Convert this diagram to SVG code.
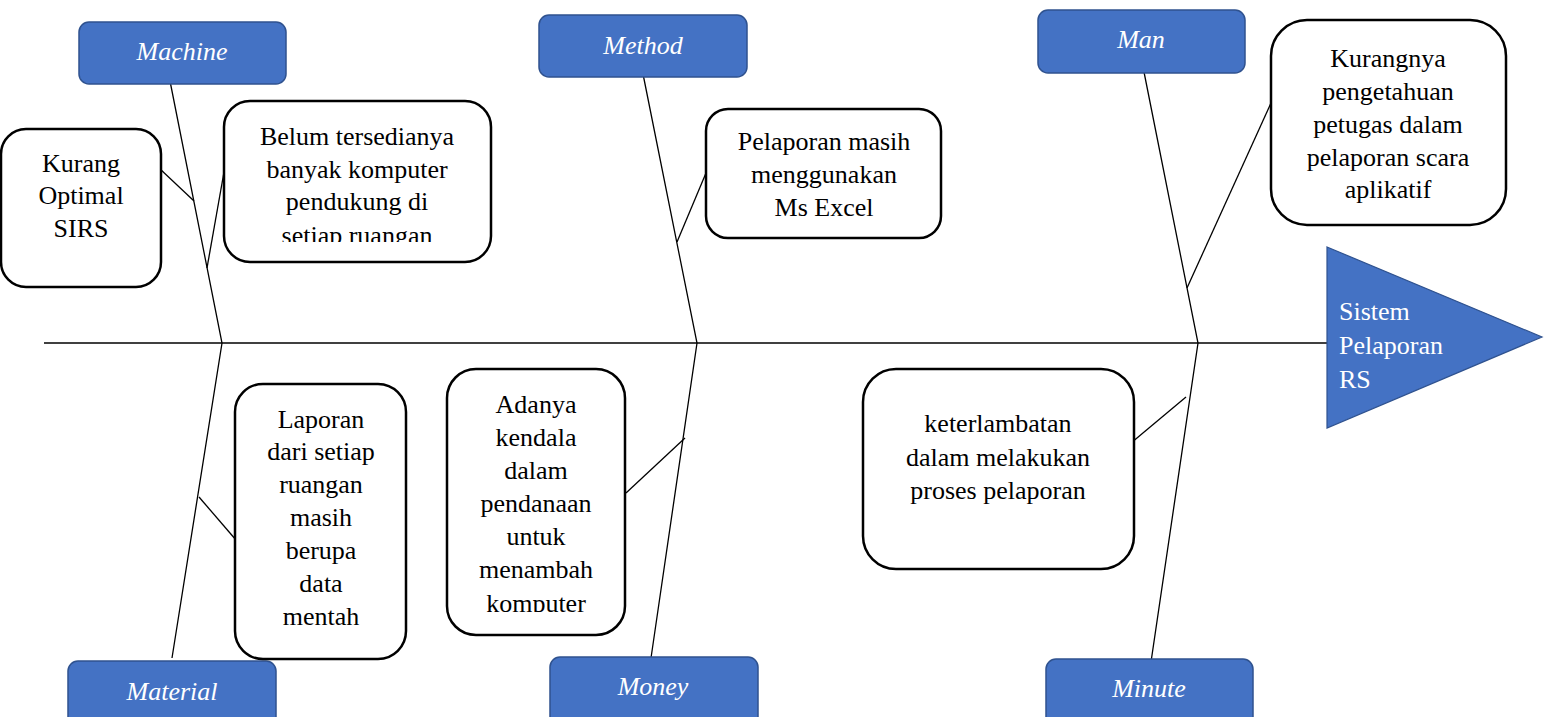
<svg xmlns="http://www.w3.org/2000/svg" width="1546" height="717" viewBox="0 0 1546 717">
<style>
.lbl{fill:#4472C4;stroke:#2F528F;stroke-width:1.5}
.lt{font-family:"Liberation Serif",serif;font-style:italic;font-size:26px;fill:#fff;text-anchor:middle}
.box{fill:#fff;stroke:#000;stroke-width:2.5}
.bt{font-family:"Liberation Serif",serif;font-size:26px;fill:#000;text-anchor:middle}
.ln{stroke:#000;stroke-width:1.3;fill:none}
.ht{font-family:"Liberation Serif",serif;font-size:26px;fill:#fff}
</style>
<defs>
<clipPath id="c1"><rect x="224" y="101" width="267" height="141"/></clipPath>
<clipPath id="c2"><rect x="447" y="369" width="178" height="243"/></clipPath>
</defs>
<rect width="1546" height="717" fill="#fff"/>
<g id="connectors">
<line class="ln" x1="44" y1="343" x2="1327" y2="343"/>
<polyline class="ln" points="169,76 222,343 172,658"/>
<polyline class="ln" points="643,74 697,343 651,658"/>
<polyline class="ln" points="1144,72 1198,343 1151,662"/>
<line class="ln" x1="159" y1="168" x2="194" y2="201"/>
<line class="ln" x1="224" y1="172" x2="207" y2="268"/>
<line class="ln" x1="706" y1="173" x2="677" y2="242"/>
<line class="ln" x1="1271" y1="103" x2="1187" y2="288"/>
<line class="ln" x1="199" y1="497" x2="236" y2="540"/>
<line class="ln" x1="685" y1="438" x2="626" y2="493"/>
<line class="ln" x1="1186" y1="397" x2="1131" y2="443"/>
</g>
<g id="machine"><rect class="lbl" x="79" y="22" width="207" height="62" rx="10"/><text class="lt" x="182" y="60">Machine</text></g>
<g id="method"><rect class="lbl" x="539" y="15" width="208" height="62" rx="10"/><text class="lt" x="643" y="54">Method</text></g>
<g id="man"><rect class="lbl" x="1038" y="10" width="207" height="63" rx="10"/><text class="lt" x="1141" y="48">Man</text></g>
<g id="material"><rect class="lbl" x="68" y="661" width="208" height="70" rx="10"/><text class="lt" x="172" y="700">Material</text></g>
<g id="money"><rect class="lbl" x="550" y="657" width="208" height="70" rx="10"/><text class="lt" x="653" y="695">Money</text></g>
<g id="minute"><rect class="lbl" x="1046" y="659" width="207" height="70" rx="10"/><text class="lt" x="1149" y="697">Minute</text></g>
<g id="kurang-optimal"><rect class="box" x="1" y="129" width="160" height="158" rx="25"/>
<text class="bt"><tspan x="81" y="172">Kurang</tspan><tspan x="81" y="204">Optimal</tspan><tspan x="81" y="237">SIRS</tspan></text></g>
<g id="belum"><rect class="box" x="224" y="101" width="267" height="161" rx="26"/>
<text class="bt" clip-path="url(#c1)"><tspan x="357" y="145">Belum tersedianya</tspan><tspan x="357" y="178">banyak komputer</tspan><tspan x="357" y="210">pendukung di</tspan><tspan x="357" y="244">setiap ruangan</tspan></text></g>
<g id="pelaporan"><rect class="box" x="706" y="109" width="235" height="129" rx="22"/>
<text class="bt"><tspan x="824" y="150">Pelaporan masih</tspan><tspan x="824" y="183">menggunakan</tspan><tspan x="824" y="216">Ms Excel</tspan></text></g>
<g id="kurangnya"><rect class="box" x="1271" y="20" width="235" height="205" rx="36"/>
<text class="bt"><tspan x="1388" y="67">Kurangnya</tspan><tspan x="1388" y="100">pengetahuan</tspan><tspan x="1388" y="133">petugas dalam</tspan><tspan x="1388" y="166">pelaporan scara</tspan><tspan x="1388" y="198">aplikatif</tspan></text></g>
<g id="laporan"><rect class="box" x="235" y="384" width="171" height="275" rx="28"/>
<text class="bt"><tspan x="321" y="428">Laporan</tspan><tspan x="321" y="460">dari setiap</tspan><tspan x="321" y="493">ruangan</tspan><tspan x="321" y="526">masih</tspan><tspan x="321" y="559">berupa</tspan><tspan x="321" y="592">data</tspan><tspan x="321" y="625">mentah</tspan></text></g>
<g id="adanya"><rect class="box" x="447" y="369" width="178" height="266" rx="29"/>
<text class="bt" clip-path="url(#c2)"><tspan x="536" y="413">Adanya</tspan><tspan x="536" y="446">kendala</tspan><tspan x="536" y="479">dalam</tspan><tspan x="536" y="512">pendanaan</tspan><tspan x="536" y="545">untuk</tspan><tspan x="536" y="578">menambah</tspan><tspan x="536" y="612">komputer</tspan></text></g>
<g id="keterlambatan"><rect class="box" x="863" y="369" width="271" height="200" rx="33"/>
<text class="bt"><tspan x="998" y="432">keterlambatan</tspan><tspan x="998" y="466">dalam melakukan</tspan><tspan x="998" y="499">proses pelaporan</tspan></text></g>
<g id="head"><polygon points="1327,247 1542,337 1327,428" fill="#4472C4" stroke="#2F528F" stroke-width="1.2"/>
<text class="ht"><tspan x="1339" y="320">Sistem</tspan><tspan x="1339" y="354">Pelaporan</tspan><tspan x="1339" y="388">RS</tspan></text></g>
</svg>
